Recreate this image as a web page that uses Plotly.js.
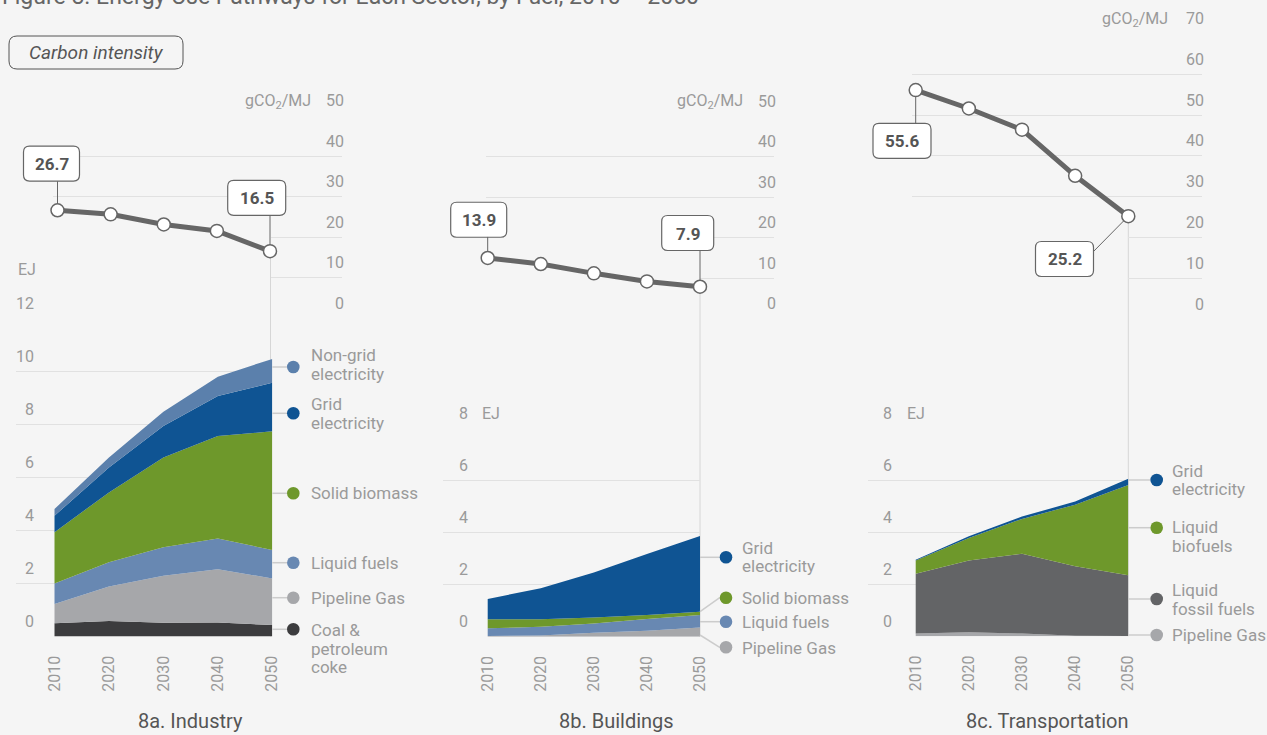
<!DOCTYPE html>
<html>
<head>
<meta charset="utf-8">
<script src="https://cdn.plot.ly/plotly-3.0.1.min.js"></script>
<style>
  html, body { margin: 0; padding: 0; background: #f5f5f5; }
  #chart { width: 1267px; height: 735px; }
</style>
</head>
<body>
<div id="chart"></div>
<script>
// ---------------- DATA ----------------
const years = [2010, 2020, 2030, 2040, 2050];
const yearLabels = ["2010", "2020", "2030", "2040", "2050"];

// 8a. Industry (EJ), stacked bottom -> top
const indCoal         = [0.50, 0.58, 0.52, 0.53, 0.43];
const indPipelineGas  = [0.72, 1.30, 1.77, 2.00, 1.76];
const indLiquidFuels  = [0.78, 0.92, 1.07, 1.16, 1.07];
const indSolidBiomass = [1.93, 2.63, 3.38, 3.86, 4.47];
const indGridElec     = [0.62, 0.94, 1.19, 1.51, 1.83];
const indNonGridElec  = [0.25, 0.37, 0.54, 0.73, 0.90];
const indCarbon       = [26.6, 25.6, 23.1, 21.5, 16.5];   // gCO2/MJ
const indCarbonLabels = ["26.7", "16.5"];

// 8b. Buildings (EJ)
const bldPipelineGas  = [0.03, 0.05, 0.15, 0.23, 0.35];
const bldLiquidFuels  = [0.29, 0.33, 0.36, 0.45, 0.48];
const bldSolidBiomass = [0.35, 0.29, 0.23, 0.15, 0.13];
const bldGridElec     = [0.78, 1.19, 1.72, 2.34, 2.91];
const bldCarbon       = [15.0, 13.5, 11.2, 9.2, 7.9];
const bldCarbonLabels = ["13.9", "7.9"];

// 8c. Transportation (EJ)
const trnPipelineGas  = [0.10, 0.15, 0.10, 0.02, 0.01];
const trnFossilFuels  = [2.30, 2.76, 3.07, 2.67, 2.33];
const trnBiofuels     = [0.51, 0.87, 1.34, 2.37, 3.48];
const trnGridElec     = [0.03, 0.06, 0.09, 0.12, 0.24];
const trnCarbon       = [56.1, 51.6, 46.4, 35.1, 25.2];
const trnCarbonLabels = ["55.6", "25.2"];

// category names (legend), bottom -> top
const indNames = ["Coal &\npetroleum\ncoke", "Pipeline Gas", "Liquid fuels", "Solid biomass", "Grid\nelectricity", "Non-grid\nelectricity"];
const bldNames = ["Pipeline Gas", "Liquid fuels", "Solid biomass", "Grid\nelectricity"];
const trnNames = ["Pipeline Gas", "Liquid\nfossil fuels", "Liquid\nbiofuels", "Grid\nelectricity"];

const ejTicksInd = [0, 2, 4, 6, 8, 10, 12];
const ejTicksOther = [0, 2, 4, 6, 8];
const ciTicks50 = [0, 10, 20, 30, 40, 50];
const ciTicks70 = [0, 10, 20, 30, 40, 50, 60, 70];

const titleText = "Figure 8. Energy Use Pathways for Each Sector, by Fuel, 2010 – 2050";
const panelTitles = ["8a. Industry", "8b. Buildings", "8c. Transportation"];

// ---------------- STYLE / GEOMETRY ----------------
const W = 1267, H = 735;
const BG = '#f5f5f5';
const GRID = '#e1e1e1';
const FONT = 'Roboto, "Liberation Sans", sans-serif';
const C = {
  coal: '#3c3c3e', gas: '#a6a7aa', liquid: '#6888b2', biomass: '#6e982b',
  grid: '#0f5493', nongrid: '#5b80ac', fossil: '#636466'
};
const PX = x => x / W;
const PY = y => 1 - y / H;

const panels = [
  {
    series: [indCoal, indPipelineGas, indLiquidFuels, indSolidBiomass, indGridElec, indNonGridElec],
    names: indNames, colors: [C.coal, C.gas, C.liquid, C.biomass, C.grid, C.nongrid],
    carbon: indCarbon, carbonLabels: indCarbonLabels, ejTicks: ejTicksInd, ciTicks: ciTicks50,
    g: { areaLeft: 16, areaX0: 54.5, areaX1: 272.3, areaY0: 636.5, areaPx: 26.54, areaMax: 12, ejLabelX: 34,
         ciLeft: 53, ciRight: 342, ciX0: 57.5, ciX1: 270, ciY0: 318, ciPx: 4.05, ciMax: 50, vLineX: 270.5,
         ejUnit: [16, 269], ciUnit: [313, 101.5], titleX: 190,
         dotX: 293.3, textX: 309,
         legend: [[629.3, 630, 629.3], [597.7, 597.5, 597.7], [562.7, 562.5, 562.7], [493.3, 493, 493.3], [413.3, 404, 413.3], [367, 355, 367]],
         boxes: [{ idx: 0, dx: -6, dy: -46.7, cx: 0, cy: -29, w: 56 }, { idx: 4, dx: -13.3, dy: -53.4, cx: 0, cy: -35.7, w: 58 }] }
  },
  {
    series: [bldPipelineGas, bldLiquidFuels, bldSolidBiomass, bldGridElec],
    names: bldNames, colors: [C.gas, C.liquid, C.biomass, C.grid],
    carbon: bldCarbon, carbonLabels: bldCarbonLabels, ejTicks: ejTicksOther, ciTicks: ciTicks50,
    g: { areaLeft: 443, areaX0: 487.7, areaX1: 700, areaY0: 636.7, areaPx: 26.05, areaMax: 8, ejLabelX: 468,
         ciLeft: 485.7, ciRight: 774, ciX0: 487.7, ciX1: 700, ciY0: 318.7, ciPx: 4.05, ciMax: 50, vLineX: 700,
         ejUnit: [480, 413], ciUnit: [745, 101.5], titleX: 616,
         dotX: 726, textX: 740,
         legend: [[647.3, 647.5, 635], [621.7, 622, 621.7], [597.7, 597.5, 611.7], [557.3, 547.5, 557.3]],
         boxes: [{ idx: 0, dx: -9, dy: -38.2, cx: 0, cy: -21, w: 56 }, { idx: 4, dx: -12.3, dy: -53.7, cx: 0, cy: -36, w: 52 }] }
  },
  {
    series: [trnPipelineGas, trnFossilFuels, trnBiofuels, trnGridElec],
    names: trnNames, colors: [C.gas, C.fossil, C.biomass, C.grid],
    carbon: trnCarbon, carbonLabels: trnCarbonLabels, ejTicks: ejTicksOther, ciTicks: ciTicks70,
    g: { areaLeft: 868, areaX0: 915.7, areaX1: 1128.3, areaY0: 636.2, areaPx: 26.0, areaMax: 8, ejLabelX: 892,
         ciLeft: 912, ciRight: 1202, ciX0: 915.7, ciX1: 1128.3, ciY0: 319, ciPx: 4.08, ciMax: 70, vLineX: 1128.3,
         ejUnit: [905, 413], ciUnit: [1170, 19], titleX: 1047.5,
         dotX: 1156.7, textX: 1170,
         legend: [[635, 635, 635], [599, 590, 599], [527.7, 527, 527.7], [480, 470.5, 480]],
         boxes: [{ idx: 0, dx: -13.7, dy: 50.7, cx: 0, cy: 33.3, w: 58 }, { idx: 4, dx: -63.8, dy: 42.8, cx: -34.5, cy: 35, w: 58 }] }
  }
];

// ---------------- BUILD ----------------
const ref = (l, k) => (k === 1 ? l : l + k);
const key = (l, k) => (k === 1 ? l + 'axis' : l + 'axis' + k);
const tickFont = { family: FONT, size: 16, color: '#9a9a9a' };

const traces = [];
const shapes = [];
const annotations = [];

function text(x, y, str, o) {
  o = o || {};
  annotations.push({
    xref: 'paper', yref: 'paper', x: PX(x), y: PY(y), text: str, showarrow: false,
    xanchor: o.anchor || 'left', yanchor: 'middle',
    font: { family: FONT, size: o.size || 17, color: o.color || '#9a9a9a' }
  });
}
function line(x0, y0, x1, y1, color, width, layer) {
  shapes.push({ type: 'line', xref: 'paper', yref: 'paper', x0: PX(x0), y0: PY(y0), x1: PX(x1), y1: PY(y1),
    line: { color: color, width: width }, layer: layer || 'above' });
}
function circle(cx, cy, r, color) {
  shapes.push({ type: 'circle', xref: 'paper', yref: 'paper', x0: PX(cx - r), x1: PX(cx + r), y0: PY(cy + r), y1: PY(cy - r),
    fillcolor: color, line: { width: 0 }, layer: 'above' });
}
function roundRect(x0, y0, x1, y1, r, fill, stroke, sw) {
  const X = PX, Y = PY;
  const p = `M${X(x0 + r)},${Y(y0)} L${X(x1 - r)},${Y(y0)} Q${X(x1)},${Y(y0)} ${X(x1)},${Y(y0 + r)} ` +
            `L${X(x1)},${Y(y1 - r)} Q${X(x1)},${Y(y1)} ${X(x1 - r)},${Y(y1)} L${X(x0 + r)},${Y(y1)} ` +
            `Q${X(x0)},${Y(y1)} ${X(x0)},${Y(y1 - r)} L${X(x0)},${Y(y0 + r)} Q${X(x0)},${Y(y0)} ${X(x0 + r)},${Y(y0)} Z`;
  shapes.push({ type: 'path', xref: 'paper', yref: 'paper', path: p, fillcolor: fill, line: { color: stroke, width: sw }, layer: 'above' });
}

const layout = {
  width: W, height: H, margin: { l: 0, r: 0, t: 0, b: 0 },
  paper_bgcolor: BG, plot_bgcolor: 'rgba(0,0,0,0)', showlegend: false,
  font: { family: FONT }
};

panels.forEach((P, i) => {
  const G = P.g;
  const n = i * 8;
  const xa = n + 1, ya = n + 1, xc = n + 2, yc = n + 2, xr = n + 3, yg = n + 3, yal = n + 4, ygl = n + 5;
  const ppyA = (G.areaX1 - G.areaX0) / 40;
  const ppyC = (G.ciX1 - G.ciX0) / 40;
  const areaDomain = [PY(G.areaY0), PY(G.areaY0 - G.areaMax * G.areaPx)];
  const ciDomain = [PY(G.ciY0), PY(G.ciY0 - G.ciMax * G.ciPx)];
  const ciX = yr => G.ciX0 + (yr - 2010) * ppyC;
  const ciY = v => G.ciY0 - v * G.ciPx;

  // axes
  layout[key('x', xa)] = {
    domain: [PX(G.areaLeft), PX(G.areaX1)], range: [2010 - (G.areaX0 - G.areaLeft) / ppyA, 2050],
    anchor: ref('y', ya), tickvals: years, ticktext: yearLabels, tickangle: -90, tickfont: tickFont,
    ticks: '', showgrid: false, zeroline: false, showline: false, ticklabelstandoff: 15, fixedrange: true
  };
  layout[key('y', ya)] = {
    domain: areaDomain, range: [0, G.areaMax], anchor: ref('x', xa), tickvals: P.ejTicks,
    showticklabels: false, showgrid: true, gridcolor: GRID, gridwidth: 1, zeroline: false, showline: false, ticks: ''
  };
  layout[key('y', yal)] = {
    overlaying: ref('y', ya), anchor: 'free', position: PX(G.ejLabelX), side: 'left',
    range: [0, G.areaMax], tickvals: P.ejTicks, showgrid: false, zeroline: false, showline: false, ticks: '',
    ticklabelshift: -15, tickfont: tickFont
  };
  layout[key('x', xc)] = {
    domain: [PX(G.ciLeft), PX(G.ciRight)],
    range: [2010 - (G.ciX0 - G.ciLeft) / ppyC, 2050 + (G.ciRight - G.ciX1) / ppyC],
    anchor: ref('y', yc), visible: false
  };
  layout[key('y', yc)] = {
    domain: ciDomain, range: [0, G.ciMax], anchor: ref('x', xc), tickvals: P.ciTicks.filter(v => v >= 30),
    showticklabels: false, showgrid: true, gridcolor: GRID, gridwidth: 1, zeroline: false, showline: false, ticks: ''
  };
  layout[key('x', xr)] = {
    domain: [PX(G.vLineX), PX(G.ciRight)], range: [0, 1], anchor: ref('y', yg), visible: false
  };
  layout[key('y', yg)] = {
    domain: ciDomain, range: [0, G.ciMax], anchor: ref('x', xr), tickvals: P.ciTicks.filter(v => v < 30),
    showticklabels: false, showgrid: true, gridcolor: GRID, gridwidth: 1, zeroline: false, showline: false, ticks: ''
  };
  layout[key('y', ygl)] = {
    overlaying: ref('y', yc), anchor: 'free', position: PX(G.ciRight + 2), side: 'left',
    range: [0, G.ciMax], tickvals: P.ciTicks, showgrid: false, zeroline: false, showline: false, ticks: '',
    ticklabelshift: -15, tickfont: tickFont
  };

  // stacked areas
  P.series.forEach((vals, k) => {
    traces.push({
      type: 'scatter', x: years, y: vals, xaxis: ref('x', xa), yaxis: ref('y', ya),
      stackgroup: 'p' + i, mode: 'none', fillcolor: P.colors[k], line: { width: 0 },
      hoverinfo: 'skip', showlegend: false, name: P.names[k].replace(/\n/g, ' ')
    });
  });
  // carbon intensity line
  traces.push({
    type: 'scatter', x: years, y: P.carbon, xaxis: ref('x', xc), yaxis: ref('y', yc),
    mode: 'lines+markers', line: { color: '#666666', width: 5 },
    marker: { size: 13, color: '#ffffff', line: { color: '#666666', width: 1.5 } },
    cliponaxis: false, hoverinfo: 'skip', showlegend: false
  });
  // helper traces so that grid/label axes are drawn
  [[xr, yg], [xa, yal], [xc, ygl]].forEach(([xx, yy]) => {
    traces.push({ type: 'scatter', x: [], y: [], xaxis: ref('x', xx), yaxis: ref('y', yy), hoverinfo: 'skip', showlegend: false });
  });

  // vertical 2050 line
  line(G.vLineX, G.areaY0, G.vLineX, ciY(P.carbon[4]) + 6.5, '#d6d6d6', 1, 'below');

  // legend
  G.legend.forEach((L, k) => {
    const [dotY, firstY, connY] = L;
    line(G.areaX1, connY, G.dotX - 6.3, dotY, '#cccccc', 1.5, 'above');
    circle(G.dotX, dotY, 6.3, P.colors[k]);
    P.names[k].split('\n').forEach((s, j) => text(G.textX, firstY + j * 18.5, s, { size: 17 }));
  });

  // value boxes
  G.boxes.forEach((B, j) => {
    const px = ciX(years[B.idx]), py = ciY(P.carbon[B.idx]);
    const bx = px + B.dx, by = py + B.dy, hw = B.w / 2, hh = 17.5;
    roundRect(bx - hw, by - hh, bx + hw, by + hh, 6, '#ffffff', '#666666', 1.2);
    text(bx, by + 0.5, '<b>' + P.carbonLabels[j] + '</b>', { size: 17, color: '#555555', anchor: 'center' });
    const sx = px + B.cx, sy = py + B.cy;
    const dx = px - sx, dy = py - sy, d = Math.hypot(dx, dy);
    line(sx, sy, px - dx / d * 6.5, py - dy / d * 6.5, '#666666', 1, 'above');
  });

  // unit labels
  text(G.ejUnit[0], G.ejUnit[1], 'EJ', { size: 16 });
  text(G.ciUnit[0], G.ciUnit[1], 'gCO<sub>2</sub>/MJ', { size: 16, anchor: 'right' });
  // panel title
  text(G.titleX, 721, panelTitles[i], { size: 20, color: '#555555', anchor: 'center' });
});

// figure title (cut off at top) and "Carbon intensity" pill
text(0, -3, titleText, { size: 23, color: '#666666' });
roundRect(9, 36, 183, 69, 8, BG, '#555555', 1);
text(96, 52.5, '<i>Carbon intensity</i>', { size: 19, color: '#555555', anchor: 'center' });

layout.shapes = shapes;
layout.annotations = annotations;

Plotly.newPlot('chart', traces, layout, { staticPlot: true, displayModeBar: false });
</script>
</body>
</html>
